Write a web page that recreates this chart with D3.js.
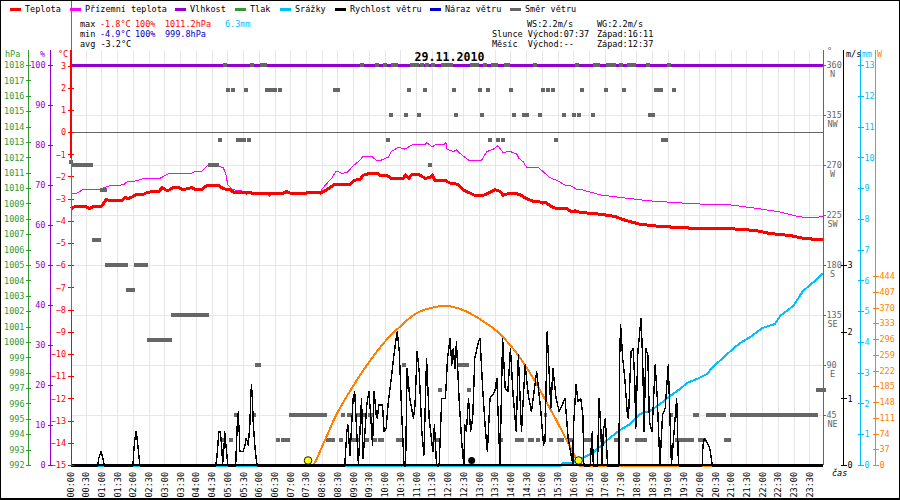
<!DOCTYPE html>
<html>
<head>
<meta charset="utf-8">
<script src="https://d3js.org/d3.v7.min.js"></script>
<style>
  body { margin: 0; background: #fff; }
  text { font-family: "DejaVu Sans Mono", monospace; font-size: 8.5px; }
  path, line, rect { shape-rendering: crispEdges; }
</style>
</head>
<body>
<div id="chart"></div>
<script>
// legend
var legendNames = ["Teplota", "Přízemní teplota", "Vlhkost", "Tlak", "Srážky", "Rychlost větru", "Náraz větru", "Směr větru"];
var legendColors = ["#ff0000", "#ff00ff", "#9400d3", "#339933", "#00bfff", "#000000", "#0000cc", "#666666"];
var legendStart = [10, 70, 175, 235, 280, 335, 430, 510];

// values: [minute of day, value]
var tempPoints = [[1,-3.45],[8,-3.36],[28,-3.35],[36,-3.45],[43,-3.36],[59,-3.35],[68,-3.03],[75,-3.09],[98,-3.1],[104,-2.94],[110,-3],[119,-2.91],[125,-2.8],[139,-2.8],[146,-2.72],[161,-2.67],[169,-2.67],[174,-2.5],[185,-2.65],[196,-2.5],[206,-2.5],[215,-2.6],[222,-2.55],[231,-2.5],[237,-2.57],[250,-2.6],[260,-2.4],[282,-2.4],[291,-2.55],[304,-2.6],[310,-2.7],[330,-2.7],[336,-2.75],[340,-2.7],[346,-2.75],[406,-2.75],[412,-2.67],[419,-2.75],[450,-2.75],[455,-2.7],[469,-2.7],[476,-2.75],[485,-2.65],[495,-2.5],[504,-2.35],[533,-2.35],[542,-2.17],[552,-2.13],[558,-1.95],[571,-1.85],[581,-1.88],[585,-1.85],[590,-1.95],[603,-1.95],[611,-2.08],[635,-2.08],[639,-1.93],[645,-2.08],[651,-1.93],[666,-1.93],[676,-2.08],[686,-2.05],[690,-1.93],[695,-2.17],[714,-2.17],[724,-2.3],[739,-2.35],[749,-2.6],[762,-2.75],[771,-2.85],[787,-2.85],[797,-2.75],[810,-2.6],[819,-2.67],[825,-2.85],[838,-2.75],[850,-2.77],[860,-2.85],[867,-2.97],[883,-3.13],[895,-3.15],[901,-3.2],[905,-3.15],[918,-3.37],[927,-3.45],[946,-3.45],[956,-3.6],[962,-3.55],[972,-3.62],[1010,-3.7],[1038,-3.8],[1057,-3.97],[1086,-4.15],[1124,-4.25],[1162,-4.3],[1200,-4.35],[1258,-4.35],[1305,-4.43],[1334,-4.57],[1372,-4.66],[1401,-4.8],[1435,-4.85]];

var feelPoints = [[1,-2.76],[12,-2.76],[24,-2.58],[56,-2.58],[75,-2.41],[101,-2.38],[107,-2.25],[120,-2.23],[139,-2.1],[171,-2.08],[188,-1.86],[231,-1.86],[237,-1.77],[250,-1.77],[263,-1.48],[291,-1.59],[296,-1.86],[300,-2.38],[310,-2.6],[326,-2.64],[331,-2.76],[374,-2.76],[379,-2.89],[384,-2.76],[476,-2.76],[479,-2.58],[498,-2.08],[506,-1.78],[510,-1.78],[517,-1.86],[527,-1.83],[539,-1.53],[552,-1.26],[558,-1.08],[574,-1.08],[584,-1.29],[593,-1.26],[606,-1.13],[612,-0.88],[625,-0.68],[638,-0.77],[651,-0.58],[676,-0.58],[679,-0.48],[690,-0.66],[695,-0.58],[711,-0.58],[716,-0.48],[718,-0.77],[730,-0.88],[736,-0.8],[746,-1.03],[759,-1.26],[784,-1.26],[794,-0.88],[806,-0.77],[815,-0.61],[825,-0.93],[837,-0.86],[851,-0.99],[855,-1.18],[863,-1.33],[870,-1.59],[892,-1.59],[914,-2.05],[933,-2.23],[941,-2.38],[953,-2.4],[965,-2.58],[972,-2.58],[991,-2.7],[1010,-2.83],[1057,-2.97],[1105,-3.1],[1162,-3.19],[1200,-3.24],[1258,-3.28],[1315,-3.46],[1353,-3.6],[1391,-3.82],[1420,-3.87],[1435,-3.78]];

var humidityPoints = [[0,100],[1435,100]];

var rainPoints = [[0,0],[933,0],[939,0.1],[956,0.1],[968,0.2],[977,0.27],[996,0.42],[1010,0.63],[1029,0.92],[1048,1.17],[1067,1.36],[1086,1.69],[1105,1.79],[1124,2.01],[1143,2.27],[1162,2.5],[1176,2.7],[1195,2.83],[1214,2.99],[1225,3.22],[1244,3.51],[1263,3.8],[1277,4],[1296,4.19],[1320,4.49],[1343,4.61],[1353,4.87],[1378,5.2],[1397,5.69],[1424,6.08],[1435,6.27]];

var sunPoints = [[0,0],[459,0],[482,52],[504,113],[533,176],[571,247],[609,305],[628,327],[657,357],[686,371],[714,376],[743,369],[781,345],[819,310],[852,263],[882,207],[914,136],[947,59],[966,12],[970,0],[1435,0]];

var windPoints = [[0,0],[52,0],[54,0.1],[56,0.15],[58,0.2],[60,0.15],[62,0.1],[64,0],[119,0],[120,0.1],[121,0.25],[123,0.4],[125,0.5],[127,0.4],[129,0.25],[131,0.1],[132,0],[277,0],[279,0.1],[281,0.3],[283,0.5],[285,0.5],[287,0.4],[289,0.2],[290,0],[293,0.3],[294,0.5],[297,0.25],[300,0],[315,0],[316,0.2],[317,0.4],[318,0.6],[320,0.8],[321,0.6],[322,0.45],[323,0.2],[329,0.2],[333,0.3],[335,0.4],[338,0.35],[339,0.3],[340,0.4],[342,0.6],[344,1.05],[345,1.2],[347,1],[348,0.7],[350,0.45],[352,0.25],[354,0.1],[356,0],
[523,0],[527,0.5],[529,0.6],[533,0.15],[539,1],[542,1.1],[549,0],[555,1],[558,0.1],[565,0.9],[569,1.1],[572,0.8],[576,0.3],[579,1.1],[583,0.75],[585,0.7],[588,0.9],[595,0.9],[598,0.5],[602,0.55],[606,0.95],[611,1.25],[616,1.6],[621,1.9],[623,2],[627,1.7],[632,0.7],[636,0],[639,0],[642,1.45],[647,1],[654,0.7],[657,0.9],[661,1.7],[665,1.4],[670,0.5],[674,0.15],[679,1.6],[684,0.7],[691,0.2],[694,0.6],[698,0],[703,0],[708,1],[715,1],[719,1.6],[724,1.9],[727,1.5],[730,1.75],[733,1.45],[736,1.85],[741,1],[746,0.35],[750,0],
[752,0.6],[755,0.5],[759,1],[763,0.5],[767,0.7],[771,1.6],[778,1.85],[781,1.9],[786,1.15],[791,0.55],[795,0.2],[800,1],[809,1.1],[813,1.3],[819,0],[824,1.9],[829,1.15],[834,1.1],[839,1.75],[844,1.05],[850,0.5],[854,1.65],[860,0.5],[867,1.5],[873,1.05],[879,0.8],[889,1.4],[897,0.8],[902,0.3],[905,0.35],[909,2],[916,0.85],[920,1.45],[926,1],[932,0.8],[943,1],[949,0.4],[958,0],
[959,0.55],[964,1.2],[968,0.95],[973,1],[977,0.75],[979,0],[991,0],[995,0.5],[997,0],[1005,0],[1008,1],[1011,0.6],[1014,0],[1016,0.5],[1020,0.7],[1024,0],[1046,0],[1047,1.55],[1049,2.1],[1053,1.6],[1057,1.3],[1062,0.75],[1064,0.7],[1069,1.7],[1073,1.75],[1076,1.25],[1078,0.55],[1082,1.7],[1085,1.95],[1088,2.2],[1091,1.6],[1094,0.5],[1097,1.75],[1101,1.65],[1104,0.65],[1109,0.5],[1115,1.5],[1119,1],[1124,0],[1126,0.3],[1129,0.75],[1134,0.85],[1140,1.5],[1143,0.75],[1146,0],[1151,0.5],[1156,1],[1159,0.1],[1160,0],[1205,0],[1206,0.3],[1209,0.4],[1213,0.35],[1219,0.25],[1224,0],[1435,0]];

// wind direction blocks: [start minute, end minute, degrees]
var dirBlocks = [
  [291,298,360],[342,350,360],[361,375,360],[552,560,360],[581,588,360],[596,603,360],[611,625,360],[647,665,360],[666,674,360],[676,684,360],[687,695,360],[707,729,360],[762,779,360],[787,794,360],[802,815,360],[827,838,360],[882,889,360],[962,970,360],[996,1010,360],[1021,1040,360],[1046,1054,360],[1061,1078,360],[1097,1105,360],[1138,1145,360],
  [297,304,337.5],[306,314,337.5],[331,338,337.5],[371,394,337.5],[396,403,337.5],[501,514,337.5],[642,649,337.5],[672,680,337.5],[727,735,337.5],[777,785,337.5],[792,800,337.5],[836,844,337.5],[897,905,337.5],[907,914,337.5],[916,924,337.5],[972,979,337.5],[1017,1025,337.5],[1052,1059,337.5],[1113,1130,337.5],[1147,1154,337.5],
  [607,615,315],[636,644,315],[661,668,315],[731,739,315],[781,789,315],[842,850,315],[861,875,315],[892,899,315],[937,945,315],[956,964,315],[966,974,315],[993,1000,315],[1101,1115,315],
  [281,288,292.5],[316,335,292.5],[337,344,292.5],[602,609,292.5],[796,804,292.5],[811,819,292.5],[821,829,292.5],[922,930,292.5],[1126,1140,292.5],
  [-3,4,273],[1,43,270],[262,283,270],[682,689,270],
  [56,70,247.5],[41,58,202.5],[66,110,180],[121,148,180],[106,123,157.5],[192,264,135],[146,194,112.5],
  [352,364,90],[632,640,90],[737,760,90],
  [701,709,67.5],[756,764,67.5],[1422,1441,67.5],
  [312,319,45],[346,354,45],[417,489,45],[516,523,45],[527,539,45],[543,552,45],[556,564,45],[567,579,45],[903,909,45],[1141,1149,45],[1187,1199,45],[1212,1250,45],[1258,1425,45],
  [285,295,22.5],[302,310,22.5],[392,399,22.5],[401,418,22.5],[487,504,22.5],[512,520,22.5],[529,536,22.5],[536,553,22.5],[560,569,22.5],[576,585,22.5],[586,598,22.5],[621,632,22.5],[691,705,22.5],[817,825,22.5],[848,865,22.5],[872,884,22.5],[888,895,22.5],[912,920,22.5],[928,941,22.5],[945,958,22.5],[977,993,22.5],[1010,1017,22.5],[1036,1048,22.5],[1057,1065,22.5],[1077,1099,22.5],[1153,1189,22.5],[1197,1212,22.5],[1246,1260,22.5]
];

// sun rise / set and moon set markers, minutes
var sunMarks = [453, 969];
var moonMarks = [765];

// tick labels
var compass = {360: "N", 315: "NW", 270: "W", 225: "SW", 180: "S", 135: "SE", 90: "E", 45: "NE"};
var solarTicks = [0, 37, 74, 111, 148, 185, 222, 259, 296, 333, 370, 407, 444];
var timeTicks = d3.range(0, 1440, 30);

var svg = d3.select("#chart").append("svg")
  .attr("width", 900)
  .attr("height", 500);

// scales
var x = d3.scaleLinear().domain([0, 1435]).range([70.5, 823]);
var yTemp = d3.scaleLinear().domain([-15, 3]).range([465, 65.5]);
var yHum = d3.scaleLinear().domain([0, 100]).range([465, 65]);
var yPres = d3.scaleLinear().domain([992, 1018]).range([465, 65]);
var yDir = d3.scaleLinear().domain([0, 360]).range([465, 65]);
var yWind = d3.scaleLinear().domain([0, 3]).range([465, 265]);
var yRain = d3.scaleLinear().domain([0, 13]).range([465, 65]);
var ySun = d3.scaleLinear().domain([0, 444]).range([465, 276]);

// grid
svg.selectAll(".vgrid").data(timeTicks.slice(1)).enter().append("line")
  .attr("x1", function(d) { return x(d); }).attr("x2", function(d) { return x(d); })
  .attr("y1", 50).attr("y2", 465)
  .attr("stroke", "#e8e6e6").attr("stroke-width", 1);
svg.selectAll(".hgrid").data([45, 90, 135, 180, 225, 270, 315]).enter().append("line")
  .attr("x1", 71).attr("x2", 823)
  .attr("y1", function(d) { return yDir(d); }).attr("y2", function(d) { return yDir(d); })
  .attr("stroke", "#e8e6e6").attr("stroke-width", 1);
svg.append("line")
  .attr("x1", 71).attr("x2", 823)
  .attr("y1", yTemp(0)).attr("y2", yTemp(0))
  .attr("stroke", "#666").attr("stroke-width", 1);

function lineOf(y, curve) {
  return d3.line()
    .x(function(d) { return x(d[0]); })
    .y(function(d) { return y(d[1]); })
    .curve(curve || d3.curveLinear);
}
function addLine(points, y, color, width, curve, dy) {
  return svg.append("path")
    .datum(points)
    .attr("d", lineOf(y, curve))
    .attr("fill", "none")
    .attr("stroke", color)
    .attr("stroke-width", width)
    .attr("stroke-linejoin", "round")
    .attr("transform", "translate(0," + (dy || 0) + ")");
}

addLine(humidityPoints, yHum, "#9400d3", 3);
addLine(feelPoints, yTemp, "#ff00ff", 1);

// wind direction
svg.selectAll(".dir").data(dirBlocks).enter().append("rect")
  .attr("x", function(d) { return x(d[0]); })
  .attr("width", function(d) { return x(d[1]) - x(d[0]); })
  .attr("y", function(d) { return yDir(d[2]) - 2; })
  .attr("height", 4)
  .attr("fill", "#666");

addLine(tempPoints, yTemp, "#ff0000", 3);
addLine(sunPoints, ySun, "#ff7f00", 2, d3.curveMonotoneX, 1);
addLine(rainPoints, yRain, "#00bfff", 2, d3.curveLinear, 1);

// baseline + wind speed, calm stretches cover the rain and sun lines
svg.append("line").attr("x1", 71).attr("x2", 823).attr("y1", 464.5).attr("y2", 464.5)
  .attr("stroke", "#000").attr("stroke-width", 2);
windPoints.forEach(function(p, i) {
  var next = windPoints[i + 1];
  if (next && p[1] === 0 && next[1] === 0) {
    addLine([p, next], yWind, "#000", 2.5, d3.curveLinear, 1);
  }
});
addLine(windPoints, yWind, "#000", 1.4);

// sun and moon
svg.selectAll(".sun").data(sunMarks).enter().append("circle")
  .attr("cx", function(d) { return x(d); }).attr("cy", 460.5).attr("r", 3.8)
  .attr("fill", "#ffff00").attr("stroke", "#000").attr("stroke-width", 0.9);
svg.selectAll(".moon").data(moonMarks).enter().append("circle")
  .attr("cx", function(d) { return x(d); }).attr("cy", 460.5).attr("r", 3.5)
  .attr("fill", "#000");

// axes
function addAxis(axis, xPos, color, top) {
  var g = svg.append("g")
    .attr("transform", "translate(" + xPos + ",0)")
    .call(axis);
  g.select(".domain").remove();
  g.append("line").attr("y1", top).attr("y2", 465).attr("stroke", color);
  g.selectAll("line").attr("stroke", color);
  g.selectAll("text").attr("fill", color).style("font-size", "8.5px")
    .style("font-family", "\"DejaVu Sans Mono\", monospace");
  return g;
}

var hPaAxis = addAxis(d3.axisLeft(yPres).tickValues(d3.range(992, 1019)).tickFormat(d3.format("d")).tickSize(3).tickPadding(1), 28.5, "#339933", 50);
hPaAxis.selectAll(".tick line").attr("x2", -3).attr("x1", 2.5);

var humAxis = addAxis(d3.axisLeft(yHum).tickValues(d3.range(0, 101, 10)).tickSize(3).tickPadding(2), 50.5, "#9400d3", 50);
humAxis.selectAll(".tick line").attr("x2", -3).attr("x1", 2.5);

var tempAxis = addAxis(d3.axisLeft(yTemp).tickValues(d3.range(-15, 4)).tickFormat(d3.format("d")).tickSize(3).tickPadding(2), 71, "#ff0000", 50);
tempAxis.selectAll(".tick line").attr("x2", -3).attr("x1", 3);
// the temperature axis is green outside the day's range
svg.append("line").attr("x1", 71).attr("x2", 71).attr("y1", 0).attr("y2", 50).attr("stroke", "#339933");
svg.append("line").attr("x1", 71).attr("x2", 71).attr("y1", yTemp(-1) + 4).attr("y2", yTemp(-8)).attr("stroke", "#339933");
svg.append("line").attr("x1", 71).attr("x2", 71).attr("y1", 50).attr("y2", yTemp(-1) + 4).attr("stroke", "#ff0000").attr("stroke-width", 1.5);

var dirAxis = addAxis(d3.axisRight(yDir).tickValues([45, 90, 135, 180, 225, 270, 315, 360]).tickSize(2).tickPadding(1), 823.5, "#666666", 50);
dirAxis.selectAll(".tick").append("text")
  .attr("x", 9).attr("y", 11).attr("text-anchor", "middle")
  .attr("fill", "#666")
  .text(function(d) { return compass[d]; });

var windAxis = addAxis(d3.axisRight(yWind).tickValues([0, 1, 2, 3]).tickFormat(d3.format("d")).tickSize(3).tickPadding(1), 843.5, "#000000", 50);
windAxis.selectAll(".tick line").attr("x1", -3);

var rainAxis = addAxis(d3.axisRight(yRain).tickValues(d3.range(0, 14)).tickFormat(d3.format("d")).tickSize(3).tickPadding(1), 860.5, "#00bfff", 50);
rainAxis.selectAll(".tick line").attr("x1", -3);

var sunAxis = addAxis(d3.axisRight(ySun).tickValues(solarTicks).tickFormat(d3.format("d")).tickSize(3).tickPadding(1), 875.5, "#ff7f00", 50);
sunAxis.selectAll(".tick line").attr("x1", -3);

// time labels
svg.selectAll(".time").data(timeTicks).enter().append("text")
  .attr("transform", function(d) { return "translate(" + (x(d) + 3) + ",472) rotate(-90)"; })
  .attr("text-anchor", "end")
  .text(function(d) { return d3.format("02")(Math.floor(d / 60)) + ":" + d3.format("02")(d % 60); });

// axis units
var units = [["hPa", 5, 57, "#339933"], ["%", 40, 57, "#9400d3"], ["°C", 58, 57, "#ff0000"], ["°", 827, 54, "#666666"],
             ["m/s", 846, 57, "#000"], ["mm", 862, 57, "#00bfff"], ["W", 877, 57, "#ff7f00"]];
svg.selectAll(".unit").data(units).enter().append("text")
  .attr("x", function(d) { return d[1]; }).attr("y", function(d) { return d[2]; })
  .attr("fill", function(d) { return d[3]; })
  .text(function(d) { return d[0]; });
svg.append("text").attr("x", 832).attr("y", 476).attr("font-style", "italic").text("čas");

// legend
legendNames.forEach(function(name, i) {
  svg.append("line")
    .attr("x1", legendStart[i]).attr("x2", legendStart[i] + 11)
    .attr("y1", 9.5).attr("y2", 9.5)
    .attr("stroke", legendColors[i]).attr("stroke-width", 2.5);
  svg.append("text").attr("x", legendStart[i] + 15).attr("y", 12).text(name);
});

// statistics
var infoRows = [
  ["max", 80, 27, "#000"], ["-1.8°C", 100, 27, "#ff0000"], ["100%", 135, 27, "#ff0000"], ["1011.2hPa", 165, 27, "#ff0000"], ["6.3mm", 225, 27, "#00bfff"],
  ["min", 80, 37, "#000"], ["-4.9°C", 100, 37, "#0000cc"], ["100%", 135, 37, "#0000cc"], ["999.8hPa", 165, 37, "#0000cc"],
  ["avg -3.2°C", 80, 47, "#000"],
  ["WS:2.2m/s", 527, 27, "#000"], ["Slunce Východ:07:37", 492, 37, "#000"], ["Měsíc  Východ:--", 492, 47, "#000"],
  ["WG:2.2m/s", 597, 27, "#000"], ["Západ:16:11", 597, 37, "#000"], ["Západ:12:37", 597, 47, "#000"]
];
svg.selectAll(".info").data(infoRows).enter().append("text")
  .attr("x", function(d) { return d[1]; }).attr("y", function(d) { return d[2]; })
  .attr("fill", function(d) { return d[3]; })
  .style("white-space", "pre")
  .text(function(d) { return d[0]; });

// title
svg.append("text")
  .attr("x", 449.5).attr("y", 61)
  .attr("text-anchor", "middle")
  .style("font-size", "11.6px").style("font-weight", "bold")
  .text("29.11.2010");

// frame
svg.append("rect").attr("x", 0.5).attr("y", 0.5).attr("width", 899).attr("height", 498.5)
  .attr("fill", "none").attr("stroke", "#000").attr("stroke-width", 1.5);
</script>
</body>
</html>
